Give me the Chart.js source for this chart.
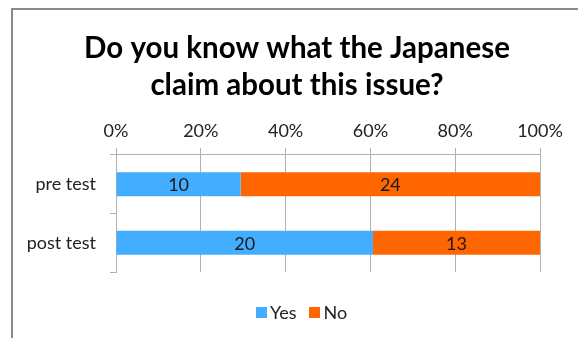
<!DOCTYPE html>
<html>
<head>
<meta charset="utf-8">
<script src="https://cdn.jsdelivr.net/npm/chart.js@4.4.1/dist/chart.umd.min.js"></script>
<style>
  html, body { margin: 0; padding: 0; background: #fff; overflow: hidden; }
  #wrap { position: relative; width: 578px; height: 338px; }
  #frame { position: absolute; left: 11px; top: 8px; width: 700px; height: 500px; border: 2px solid #8a8a8a; box-sizing: border-box; }
  canvas { position: absolute; left: 0; top: 0; }
</style>
</head>
<body>
<div id="wrap">
  <div id="frame"></div>
  <canvas id="c" width="578" height="338"></canvas>
</div>
<script>
const categories = ['pre test', 'post test'];
const yesCounts = [10, 20];
const noCounts = [24, 13];
const seriesNames = ['Yes', 'No'];
const tickValues = [0, 20, 40, 60, 80, 100];
const titleLines = ['Do you know what the Japanese', 'claim about this issue?'];

const totals = categories.map((_, i) => yesCounts[i] + noCounts[i]);
const toPct = arr => arr.map((v, i) => v / totals[i] * 100);

const FONT = 'Lato, "Open Sans", sans-serif';

const valueLabels = {
  id: 'valueLabels',
  afterDatasetsDraw(chart) {
    const ctx = chart.ctx;
    ctx.save();
    ctx.font = '18px ' + FONT;
    ctx.fillStyle = '#1a1a1a';
    ctx.textAlign = 'center';
    ctx.textBaseline = 'middle';
    chart.data.datasets.forEach((ds, di) => {
      const meta = chart.getDatasetMeta(di);
      meta.data.forEach((bar, i) => {
        const p = bar.getProps(['x', 'y', 'base'], true);
        ctx.fillText(String(ds.rawCounts[i]), (p.x + p.base) / 2, p.y + 1);
      });
    });
    ctx.restore();
  }
};

// Compact legend (small gap between swatch and text, like the original)
const compactLegend = {
  id: 'compactLegend',
  afterDraw(chart) {
    const ctx = chart.ctx;
    const box = 11, gap = 3, spacing = 13, cy = 312.5;
    ctx.save();
    ctx.font = '18px ' + FONT;
    ctx.textBaseline = 'middle';
    ctx.textAlign = 'left';
    const items = chart.data.datasets.map(ds => ({ text: ds.label, color: ds.backgroundColor, w: ctx.measureText(ds.label).width }));
    const total = items.reduce((s, it) => s + box + gap + it.w, 0) + spacing * (items.length - 1);
    let x = 301.5 - total / 2;
    items.forEach(it => {
      ctx.fillStyle = it.color;
      ctx.fillRect(Math.round(x), Math.round(cy - box / 2), box, box);
      ctx.fillStyle = '#222';
      ctx.fillText(it.text, x + box + gap, cy + 1);
      x += box + gap + it.w + spacing;
    });
    ctx.restore();
  }
};

const hiddenAxis = (pos, size) => ({
  type: 'linear',
  position: pos,
  display: true,
  afterFit(scale) { if (pos === 'right') scale.width = size; else scale.height = size; },
  ticks: { display: false },
  grid: { display: false, drawTicks: false },
  border: { display: false }
});

new Chart(document.getElementById('c'), {
  type: 'bar',
  data: {
    labels: categories,
    datasets: [
      { label: seriesNames[0], data: toPct(yesCounts), rawCounts: yesCounts, backgroundColor: '#43aeff', borderWidth: 0 },
      { label: seriesNames[1], data: toPct(noCounts), rawCounts: noCounts, backgroundColor: '#ff6600', borderWidth: 0 }
    ]
  },
  options: {
    indexAxis: 'y',
    responsive: false,
    animation: false,
    devicePixelRatio: 1,
    layout: { padding: { left: 16, right: 0, top: 0, bottom: 0 } },
    datasets: { bar: { barPercentage: 0.41, categoryPercentage: 1 } },
    scales: {
      x: {
        position: 'top',
        stacked: true,
        min: 0, max: 100,
        afterBuildTicks(scale) { scale.ticks = tickValues.map(v => ({ value: v })); },
        afterFit(scale) { scale.height = 51; },
        ticks: { callback: v => v + '%', font: { family: FONT, size: 18 }, color: '#222', padding: 6, maxRotation: 0 },
        grid: { color: '#b0b0b0', lineWidth: 1, tickLength: 7, drawOnChartArea: true },
        border: { color: '#b0b0b0', width: 1 }
      },
      y: {
        stacked: true,
        afterFit(scale) { scale.width = 100; },
        ticks: { font: { family: FONT, size: 18 }, color: '#222', padding: 14 },
        grid: { color: '#b0b0b0', lineWidth: 1, tickLength: 6, drawOnChartArea: false, offset: true },
        border: { color: '#b0b0b0', width: 1 }
      },
      padRight: hiddenAxis('right', 38),
      padBottom: hiddenAxis('bottom', 66)
    },
    plugins: {
      title: {
        display: true,
        text: titleLines,
        font: { family: FONT, size: 29.5, weight: 'bold', lineHeight: 1.254 },
        color: '#000',
        padding: { top: 30, bottom: 0 }
      },
      legend: { display: false },
      tooltip: { enabled: false }
    }
  },
  plugins: [valueLabels, compactLegend]
});
</script>
</body>
</html>
